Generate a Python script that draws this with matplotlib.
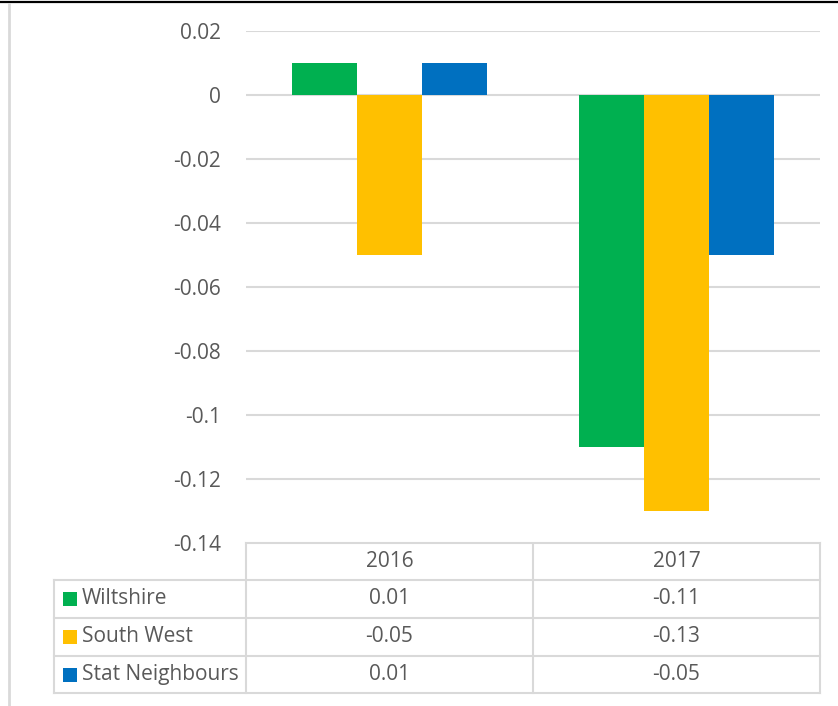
import matplotlib.pyplot as plt
import numpy as np

# Series values per year
years = ["2016", "2017"]
series_names = ["Wiltshire", "South West", "Stat Neighbours"]
wiltshire = [0.01, -0.11]
south_west = [-0.05, -0.13]
stat_neighbours = [0.01, -0.05]
y_ticks = [0.02, 0, -0.02, -0.04, -0.06, -0.08, -0.1, -0.12, -0.14]
y_tick_labels = ["0.02", "0", "-0.02", "-0.04", "-0.06", "-0.08", "-0.1", "-0.12", "-0.14"]

colors = ["#00B050", "#FFC000", "#0070C0"]
grid_color = "#D9D9D9"
text_color = "#595959"
fs = 15

plt.rcParams["font.family"] = ["Open Sans", "DejaVu Sans"]

W, H = 838, 706
fig = plt.figure(figsize=(W / 100, H / 100), dpi=100)


def px_box(x0, y0, x1, y1):
    """Convert pixel box (top-left origin) to figure fraction rect."""
    return [x0 / W, 1 - y1 / H, (x1 - x0) / W, (y1 - y0) / H]


# Chart area
ax = fig.add_axes(px_box(246, 31, 820, 543))
all_series = [wiltshire, south_west, stat_neighbours]
bar_w = 0.226
x = np.arange(len(years))
for i, vals in enumerate(all_series):
    ax.bar(x + (i - 1) * bar_w, vals, width=bar_w, color=colors[i],
           zorder=3, linewidth=0)

ax.set_xlim(-0.5, len(years) - 0.5)
ax.set_ylim(-0.14, 0.02)
ax.set_yticks(y_ticks)
ax.set_yticklabels(y_tick_labels)
ax.set_xticks([])
ax.tick_params(axis="y", length=0, pad=18, labelsize=fs, labelcolor=text_color)
for t in y_ticks:
    ax.axhline(t, color=grid_color, linewidth=1.5, zorder=1)
for spine in ax.spines.values():
    spine.set_visible(False)

# Overlay for the data table and frame, in pixel coordinates
ov = fig.add_axes([0, 0, 1, 1], zorder=-1)
ov.set_xlim(0, W)
ov.set_ylim(H, 0)
ov.axis("off")

# frame lines
ov.plot([0, W], [1.5, 1.5], color="black", linewidth=1.6)
ov.plot([9, 9], [4, H], color=grid_color, linewidth=2)

# data table
col_edges = [54, 246, 533, 820]
row_edges = [543, 580, 618, 656, 693]
lw = 1.5
# horizontal lines
ov.plot([246, 820], [row_edges[0]] * 2, color=grid_color, linewidth=lw)
for yy in row_edges[1:]:
    ov.plot([54, 820], [yy, yy], color=grid_color, linewidth=lw)
# vertical lines
ov.plot([54, 54], [row_edges[1], row_edges[-1]], color=grid_color, linewidth=lw)
for xx in col_edges[1:]:
    ov.plot([xx, xx], [row_edges[0], row_edges[-1]], color=grid_color, linewidth=lw)

col_centers = [(col_edges[j + 1] + col_edges[j + 2]) / 2 for j in range(len(years))]
row_centers = [(row_edges[k] + row_edges[k + 1]) / 2 for k in range(len(row_edges) - 1)]

for j, yr in enumerate(years):
    ov.text(col_centers[j], row_centers[0], yr, ha="center", va="center",
            fontsize=fs, color=text_color)

for i, name in enumerate(series_names):
    yc = row_centers[i + 1]
    ov.add_patch(plt.Rectangle((63, yc - 7), 14, 14, color=colors[i], linewidth=0))
    ov.text(82, yc, name, ha="left", va="center", fontsize=fs, color=text_color)
    for j in range(len(years)):
        ov.text(col_centers[j], yc, f"{all_series[i][j]:.2f}", ha="center",
                va="center", fontsize=fs, color=text_color)

fig.savefig("out.png", dpi=100, facecolor="white")
